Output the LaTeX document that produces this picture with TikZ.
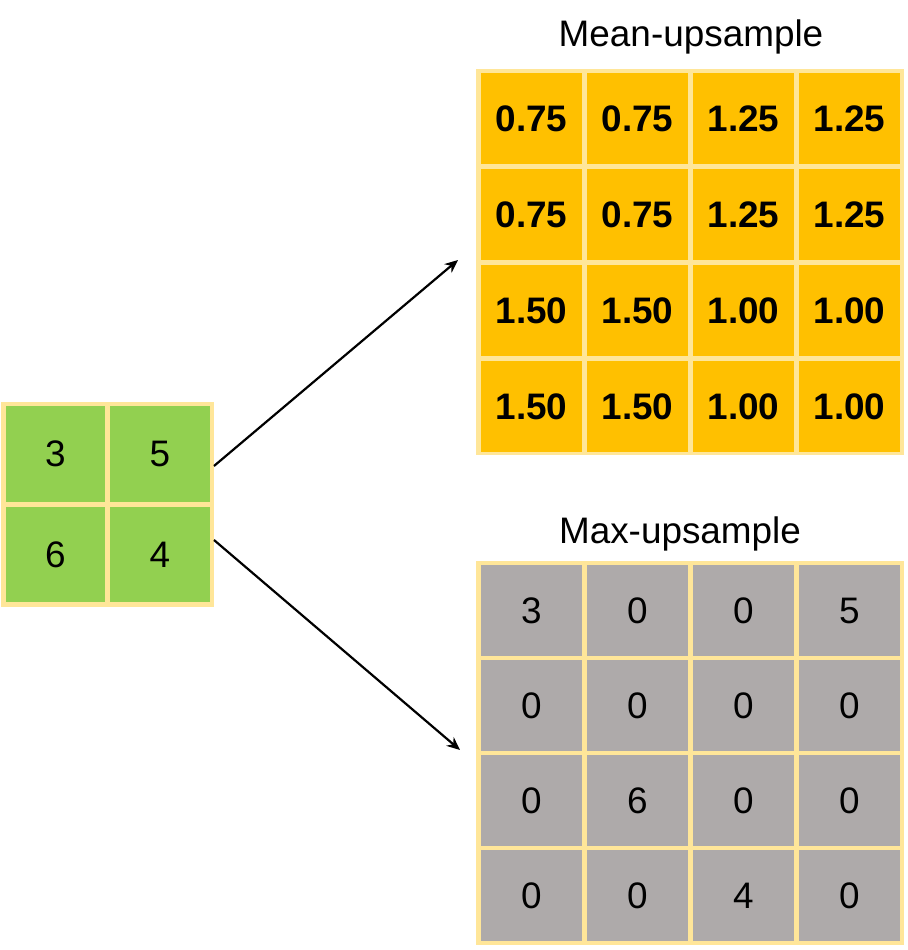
\documentclass[tikz,border=0pt]{standalone}
\usepackage{fontspec}
\setmainfont{Liberation Sans}
\usetikzlibrary{calc,arrows.meta}

\definecolor{cellgreen}{HTML}{92D050}
\definecolor{cellorange}{HTML}{FFC000}
\definecolor{cellgray}{HTML}{AEAAAA}
\definecolor{framey}{HTML}{FFE699}

\begin{document}
\begin{tikzpicture}[x=0.02cm,y=-0.02cm,
  frame/.style={fill=framey, inner sep=0pt, outer sep=0pt},
  cell/.style={inner sep=0pt, minimum width=2.02cm, minimum height=1.82cm,
    font=\fontsize{21}{25}\selectfont},
  smallcell/.style={cell, fill=cellgreen, minimum width=2cm, minimum height=1.92cm},
  meancell/.style={cell, fill=cellorange, font=\fontsize{21}{25}\selectfont\bfseries},
  maxcell/.style={cell, fill=cellgray},
  title/.style={font=\fontsize{21}{25}\selectfont},
  conn/.style={-{Stealth[length=7.5pt,width=6.5pt]}, line width=1.25pt}]

\useasboundingbox (0,0) rectangle (907,950);

% gelbe Rahmen
\node[frame, minimum width=4.26cm, minimum height=4.1cm] (small) at (107.5,504.5) {};
\node[frame, minimum width=8.56cm, minimum height=7.72cm] (meanframe) at (690,262) {};
\node[frame, minimum width=8.56cm, minimum height=7.68cm] (maxframe) at (690,753) {};

% 2x2 Eingabe
\foreach \row [count=\r] in {{3,5},{6,4}}
  \foreach \v [count=\c] in \row
    \node[smallcell] (small-\r-\c) at ({-49+104.5*\c},{353.5+100.5*\r}) {\v};

% Mean-upsample
\foreach \row [count=\r] in {{0.75,0.75,1.25,1.25},{0.75,0.75,1.25,1.25},
                             {1.50,1.50,1.00,1.00},{1.50,1.50,1.00,1.00}}
  \foreach \v [count=\c] in \row
    \node[meancell] (mean-\r-\c) at ({425.5+106*\c},{22.5+96*\r}) {\v};

% Max-upsample
\foreach \row [count=\r] in {{3,0,0,5},{0,0,0,0},{0,6,0,0},{0,0,4,0}}
  \foreach \v [count=\c] in \row
    \node[maxcell] (max-\r-\c) at ({425.5+106*\c},{515.5+95*\r}) {\v};

\node[title] (meantitle) at (691,37) {Mean-upsample};
\node[title] (maxtitle) at (680,534) {Max-upsample};

% Pfeile
\coordinate (upend) at (458,260);
\coordinate (downend) at (460,750);
\draw[conn] ($(small.east)+(0,-38.5)$) -- (upend);
\draw[conn] ($(small.east)+(0,35.5)$) -- (downend);

\end{tikzpicture}
\end{document}
